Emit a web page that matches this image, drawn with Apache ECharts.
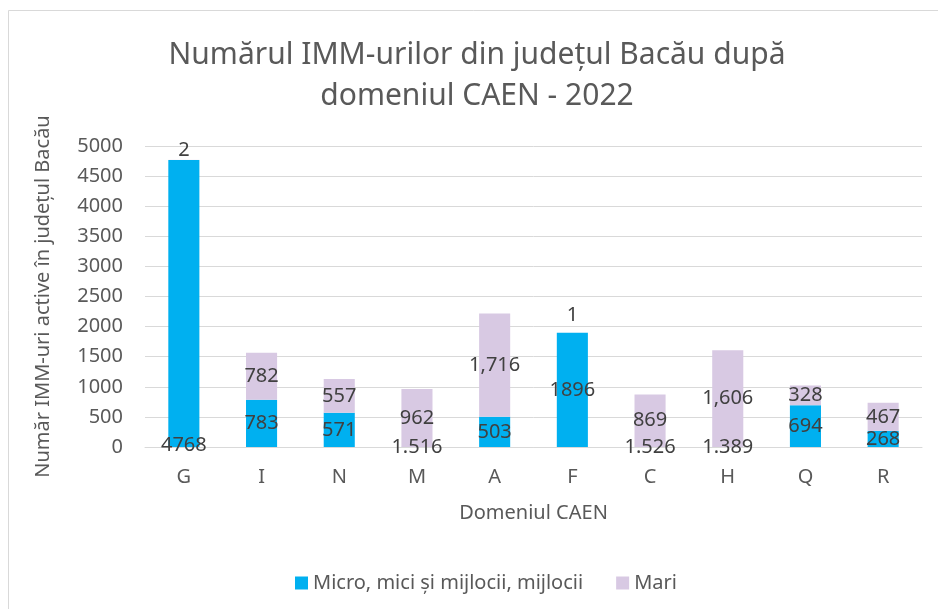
<!DOCTYPE html>
<html>
<head>
<meta charset="utf-8">
<script src="https://cdn.jsdelivr.net/npm/echarts@6/dist/echarts.min.js"></script>
<style>
  html, body { margin: 0; padding: 0; background: #fff; }
  #chart { width: 938px; height: 609px; }
</style>
</head>
<body>
<div id="chart"></div>
<script>
// domeniul CAEN
var categories = ['G', 'I', 'N', 'M', 'A', 'F', 'C', 'H', 'Q', 'R'];
// Micro, mici si mijlocii
var microValues = [4768, 783, 571, 1.516, 503, 1896, 1.526, 1.389, 694, 268];
var microLabels = ['4768', '783', '571', '1.516', '503', '1896', '1.526', '1.389', '694', '268'];
// Mari
var mariValues = [2, 782, 557, 962, 1716, 1, 869, 1606, 328, 467];
var mariLabels = ['2', '782', '557', '962', '1,716', '1', '869', '1,606', '328', '467'];
var yTicks = [0, 500, 1000, 1500, 2000, 2500, 3000, 3500, 4000, 4500, 5000];

var FONT = 'Noto Sans';
var labelColor = '#404040';

// label placement that differs from the centred default
var microLabelTweaks = {
    G: { position: 'insideBottom', distance: 0, offset: [0, 8] }
};
var mariLabelTweaks = {
    G: { position: 'top', distance: 0 },
    F: { position: 'top', distance: 8 }
};

function buildData(values, tweaks) {
    return values.map(function (v, i) {
        var item = { value: v };
        if (tweaks[categories[i]]) item.label = tweaks[categories[i]];
        return item;
    });
}

var chart = echarts.init(document.getElementById('chart'));
chart.setOption({
    animation: false,
    backgroundColor: '#fff',
    textStyle: { fontFamily: FONT },
    graphic: [{
        type: 'rect',
        shape: { x: 8.5, y: 10.5, width: 940, height: 620 },
        style: { fill: 'none', stroke: '#d9d9d9', lineWidth: 1 },
        silent: true
    }],
    title: {
        text: 'Numărul IMM-urilor din județul Bacău după\ndomeniul CAEN - 2022',
        left: 472,
        top: 30,
        textAlign: 'center',
        textStyle: {
            fontFamily: FONT,
            fontSize: 30,
            fontWeight: 'normal',
            color: '#595959',
            lineHeight: 41
        }
    },
    legend: {
        left: 290,
        top: 568,
        itemWidth: 13,
        itemHeight: 13,
        itemGap: 33,
        icon: 'rect',
        textStyle: { fontFamily: FONT, fontSize: 20, color: '#595959' },
        data: ['Micro, mici și mijlocii, mijlocii', 'Mari']
    },
    grid: { left: 145, right: 16, top: 146, bottom: 162 },
    xAxis: {
        type: 'category',
        data: categories,
        name: 'Domeniul CAEN',
        nameLocation: 'middle',
        nameGap: 56,
        nameTextStyle: { fontFamily: FONT, fontSize: 20, color: '#595959' },
        axisLine: { lineStyle: { color: '#d9d9d9', width: 1 } },
        axisTick: { show: false },
        axisLabel: { fontFamily: FONT, fontSize: 20, color: '#595959', margin: 20 }
    },
    yAxis: {
        type: 'value',
        min: yTicks[0],
        max: yTicks[yTicks.length - 1],
        interval: yTicks[1] - yTicks[0],
        name: 'Număr IMM-uri active în județul Bacău',
        nameLocation: 'middle',
        nameGap: 92,
        nameTextStyle: { fontFamily: FONT, fontSize: 20, color: '#595959' },
        axisLine: { show: false },
        axisTick: { show: false },
        axisLabel: {
            fontFamily: FONT, fontSize: 20, color: '#595959', margin: 22,
            formatter: function (v) { return String(v); }
        },
        splitLine: { lineStyle: { color: '#d9d9d9', width: 1 } }
    },
    series: [{
        name: 'Micro, mici și mijlocii, mijlocii',
        type: 'bar',
        stack: 'total',
        barWidth: '40%',
        itemStyle: { color: '#00B0F0' },
        label: {
            show: true,
            position: 'inside',
            fontFamily: FONT,
            fontSize: 20,
            color: labelColor,
            formatter: function (p) { return microLabels[p.dataIndex]; }
        },
        data: buildData(microValues, microLabelTweaks)
    }, {
        name: 'Mari',
        type: 'bar',
        stack: 'total',
        barWidth: '40%',
        itemStyle: { color: '#D8C9E3' },
        label: {
            show: true,
            position: 'inside',
            fontFamily: FONT,
            fontSize: 20,
            color: labelColor,
            formatter: function (p) { return mariLabels[p.dataIndex]; }
        },
        data: buildData(mariValues, mariLabelTweaks)
    }]
});
</script>
</body>
</html>
